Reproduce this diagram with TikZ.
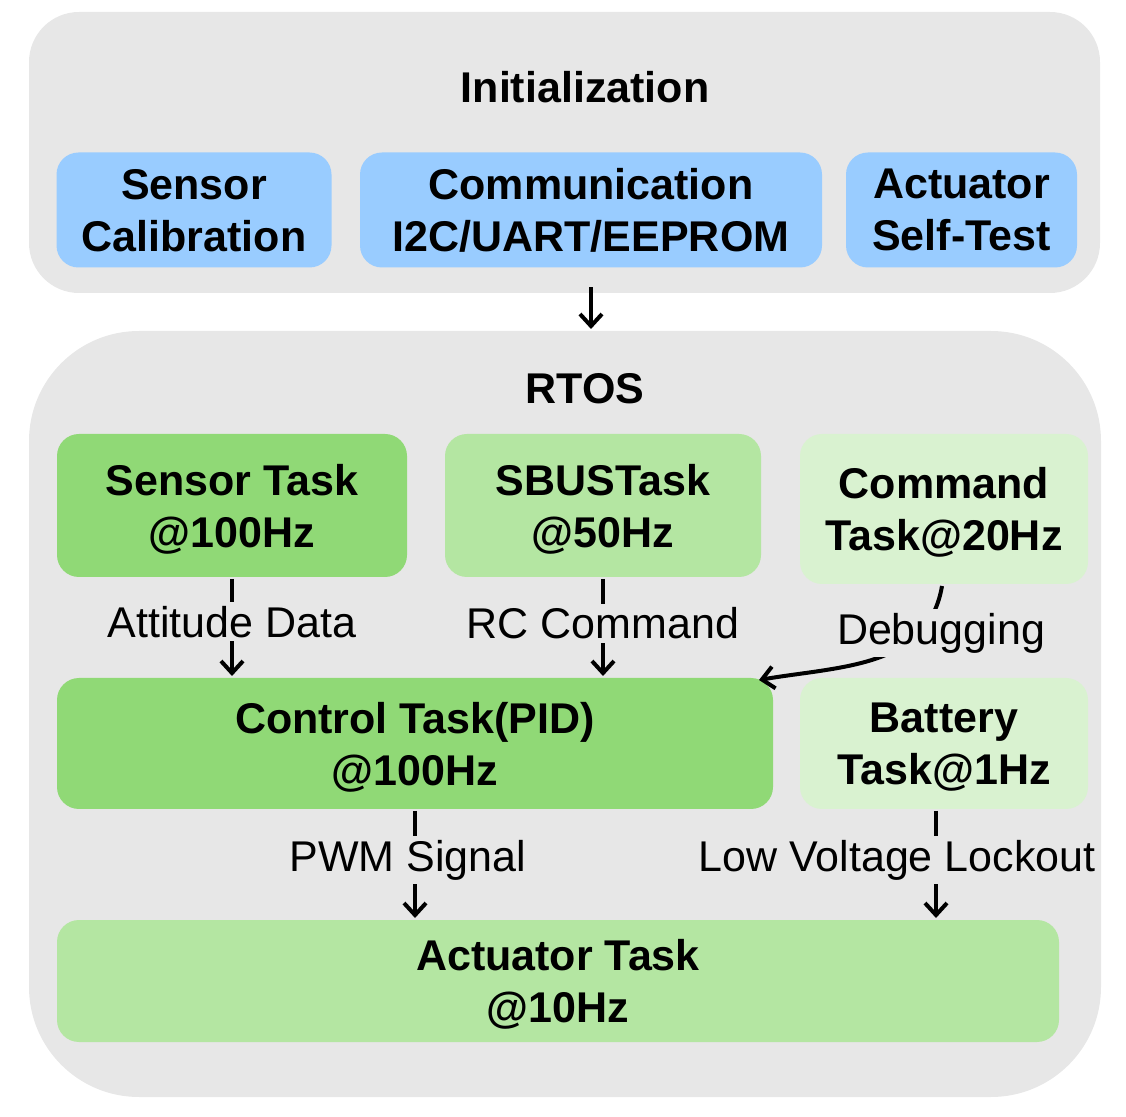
\documentclass[tikz,border=0pt]{standalone}
\usepackage{fontspec}
\setmainfont{Liberation Sans}
\usetikzlibrary{arrows.meta}
\tikzset{>={Straight Barb[length=6pt,width=11pt]}}
\definecolor{panelgray}{RGB}{231,231,231}
\definecolor{initblue}{RGB}{153,204,255}
\definecolor{taskdark}{RGB}{144,217,118}
\definecolor{taskmid}{RGB}{180,230,162}
\definecolor{tasklight}{RGB}{217,242,208}

\begin{document}
\begin{tikzpicture}[x=0.5pt,y=-0.5pt,->,line width=2pt,align=center]
\tikzstyle{panel} = [rectangle,fill=panelgray,inner sep=0pt]
\tikzstyle{task} = [font=\fontsize{21.5}{26}\selectfont\bfseries,rectangle,rounded corners=11pt,inner sep=0pt,text depth=0pt]
\tikzstyle{ttl} = [font=\fontsize{21.5}{26}\selectfont\bfseries]
\tikzstyle{lbl} = [font=\fontsize{21.5}{26}\selectfont,fill=panelgray,inner sep=2pt]
\useasboundingbox (0,0) rectangle (1126,1117);
\node[panel,minimum width=535.5pt,minimum height=140.5pt,rounded corners=25pt] (init) at (564.5,152.5) {};
\node[panel,minimum width=536pt,minimum height=383pt,rounded corners=55pt] (rtos) at (565,714) {};
\node[ttl] (inittitle) at (585,87) {Initialization};
\node[ttl] (rtostitle) at (585,389) {RTOS};
\node[task,fill=initblue,minimum width=137.5pt,minimum height=57.5pt] (senscal) at (194,210) {Sensor\\Calibration};
\node[task,fill=initblue,minimum width=231pt,minimum height=57.5pt] (comm) at (591,210) {Communication\\I2C/UART/EEPROM};
\node[task,fill=initblue,minimum width=115.5pt,minimum height=57.5pt] (actst) at (961.5,210) {Actuator\\Self-Test};
\node[task,fill=taskdark,minimum width=175pt,minimum height=71.5pt] (sens) at (232,505.5) {Sensor Task\\@100Hz};
\node[task,fill=taskmid,minimum width=158pt,minimum height=71.5pt] (sbus) at (603,505.5) {SBUSTask\\@50Hz};
\node[task,fill=tasklight,minimum width=144pt,minimum height=75pt] (cmd) at (944,509) {Command\\Task@20Hz};
\node[task,fill=taskdark,minimum width=358pt,minimum height=65.5pt] (ctrl) at (415,743.5) {Control Task(PID)\\@100Hz};
\node[task,fill=tasklight,minimum width=144pt,minimum height=65.5pt] (bat) at (944,743.5) {Battery\\Task@1Hz};
\node[task,fill=taskmid,minimum width=501pt,minimum height=61pt] (act) at (558,981) {Actuator Task\\@10Hz};
\draw ([yshift=-9pt]comm.south) -- (comm.south |- rtos.north);
\draw (sens.south) -- (sens.south |- ctrl.north) node[lbl,pos=0.44] {Attitude Data};
\draw (sbus.south) -- (sbus.south |- ctrl.north) node[lbl,pos=0.46] {RC Command};
\draw ([xshift=-1pt]cmd.south) .. controls +(-14,82) and +(82,-14) .. ([xshift=-8pt,yshift=-2pt]ctrl.north east) node[lbl,pos=0.25,xshift=11pt] {Debugging};
\draw (ctrl.south) -- (ctrl.south |- act.north) node[lbl,pos=0.46,xshift=-3.5pt] {PWM Signal};
\draw ([xshift=-4pt]bat.south) -- ([xshift=-4pt]bat.south |- act.north) node[lbl,pos=0.46,xshift=-19.5pt] {Low Voltage Lockout};
\end{tikzpicture}
\end{document}
